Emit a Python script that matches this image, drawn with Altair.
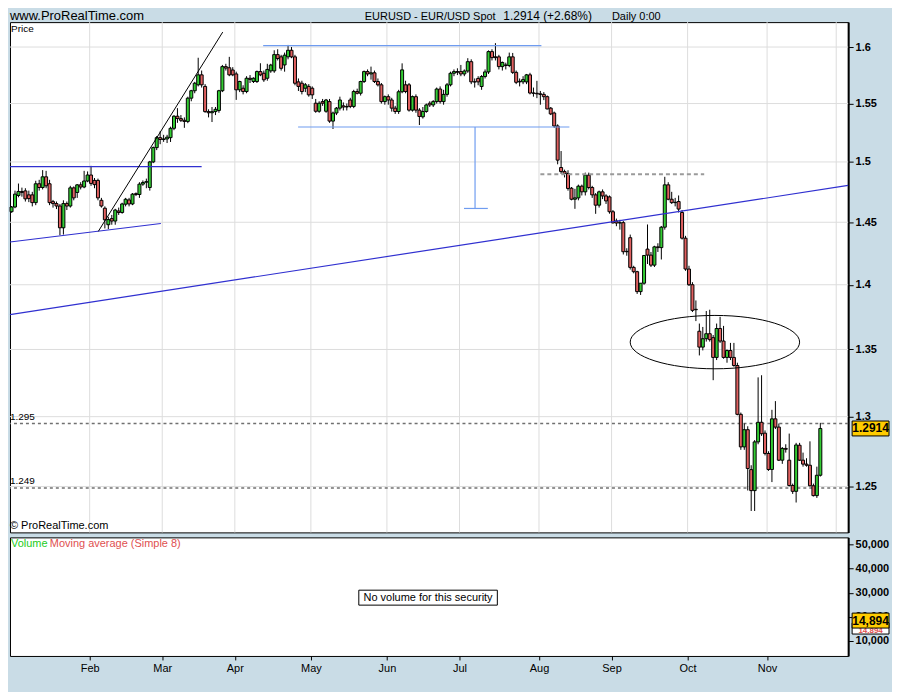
import json
import altair as alt
import numpy as np
import pandas as pd

# ---------------- data ----------------
OPEN = [
    1.4586, 1.4625, 1.4720, 1.4753, 1.4758, 1.4725, 1.4725, 1.4661, 1.4817, 1.4786,
    1.4875, 1.4817, 1.4669, 1.4653, 1.4633, 1.4455, 1.4653, 1.4633, 1.4783, 1.4745,
    1.4808, 1.4790, 1.4840, 1.4890, 1.4845, 1.4845, 1.4680, 1.4615, 1.4480, 1.4530,
    1.4510, 1.4592, 1.4580, 1.4648, 1.4683, 1.4650, 1.4735, 1.4728, 1.4814, 1.4830,
    1.4786, 1.5000, 1.5121, 1.5206, 1.5190, 1.5195, 1.5206, 1.5286, 1.5390, 1.5370,
    1.5355, 1.5345, 1.5547, 1.5612, 1.5664, 1.5752, 1.5650, 1.5430, 1.5420, 1.5430,
    1.5440, 1.5612, 1.5825, 1.5815, 1.5795, 1.5760, 1.5620, 1.5634, 1.5605, 1.5722,
    1.5693, 1.5693, 1.5781, 1.5766, 1.5722, 1.5787, 1.5787, 1.5932, 1.5912, 1.5840,
    1.5912, 1.5971, 1.5912, 1.5690, 1.5678, 1.5634, 1.5650, 1.5634, 1.5503, 1.5433,
    1.5517, 1.5433, 1.5517, 1.5348, 1.5418, 1.5460, 1.5480, 1.5470, 1.5531, 1.5475,
    1.5605, 1.5590, 1.5693, 1.5781, 1.5760, 1.5770, 1.5693, 1.5664, 1.5517, 1.5560,
    1.5531, 1.5460, 1.5431, 1.5603, 1.5664, 1.5664, 1.5443, 1.5560, 1.5443, 1.5385,
    1.5431, 1.5503, 1.5488, 1.5517, 1.5627, 1.5517, 1.5580, 1.5664, 1.5766, 1.5781,
    1.5781, 1.5760, 1.5786, 1.5869, 1.5690, 1.5720, 1.5649, 1.5737, 1.5778, 1.5959,
    1.5912, 1.5912, 1.5825, 1.5840, 1.5835, 1.5912, 1.5774, 1.5690, 1.5690, 1.5690,
    1.5752, 1.5592, 1.5590, 1.5585, 1.5580, 1.5560, 1.5460, 1.5418, 1.5306, 1.4953,
    1.4919, 1.4903, 1.4780, 1.4689, 1.4700, 1.4797, 1.4750, 1.4889, 1.4786, 1.4725,
    1.4640, 1.4750, 1.4716, 1.4708, 1.4586, 1.4510, 1.4494, 1.4497, 1.4262, 1.4375,
    1.4137, 1.4103, 1.3946, 1.4012, 1.4283, 1.4235, 1.4155, 1.4301, 1.4295, 1.4460,
    1.4808, 1.4689, 1.4661, 1.4670, 1.4580, 1.4371, 1.4124, 1.4000, 1.3808, 1.3639,
    1.3518, 1.3582, 1.3620, 1.3590, 1.3440, 1.3660, 1.3564, 1.3440, 1.3492, 1.3440,
    1.3379, 1.3017, 1.2781, 1.2905, 1.2619, 1.2471, 1.2817, 1.2959, 1.2880, 1.2734,
    1.2620, 1.2984, 1.2924, 1.2686, 1.2770, 1.2686, 1.2507, 1.2466, 1.2793, 1.2686,
    1.2658, 1.2650, 1.2505, 1.2436, 1.2579,
]
HIGH = [
    1.4633, 1.4760, 1.4819, 1.4785, 1.4780, 1.4760, 1.4750, 1.4842, 1.4850, 1.4931,
    1.4925, 1.4850, 1.4683, 1.4670, 1.4650, 1.4680, 1.4670, 1.4800, 1.4795, 1.4815,
    1.4830, 1.4925, 1.4920, 1.4967, 1.4865, 1.4860, 1.4700, 1.4630, 1.4545, 1.4560,
    1.4610, 1.4620, 1.4660, 1.4700, 1.4700, 1.4740, 1.4745, 1.4830, 1.4845, 1.4860,
    1.5009, 1.5130, 1.5220, 1.5260, 1.5230, 1.5230, 1.5300, 1.5400, 1.5460, 1.5400,
    1.5380, 1.5560, 1.5620, 1.5690, 1.5904, 1.5790, 1.5670, 1.5450, 1.5470, 1.5470,
    1.5620, 1.5840, 1.5850, 1.5912, 1.5820, 1.5780, 1.5700, 1.5660, 1.5740, 1.5750,
    1.5730, 1.5790, 1.5855, 1.5790, 1.5850, 1.5850, 1.5971, 1.5980, 1.5930, 1.5950,
    1.6019, 1.6000, 1.5930, 1.5720, 1.5700, 1.5680, 1.5670, 1.5650, 1.5540, 1.5520,
    1.5540, 1.5540, 1.5540, 1.5430, 1.5470, 1.5560, 1.5510, 1.5500, 1.5550, 1.5620,
    1.5630, 1.5700, 1.5790, 1.5800, 1.5825, 1.5790, 1.5720, 1.5680, 1.5570, 1.5580,
    1.5550, 1.5480, 1.5620, 1.5854, 1.5700, 1.5680, 1.5570, 1.5580, 1.5460, 1.5470,
    1.5500, 1.5520, 1.5530, 1.5640, 1.5650, 1.5620, 1.5680, 1.5780, 1.5800, 1.5810,
    1.5840, 1.5800, 1.5900, 1.5890, 1.5720, 1.5740, 1.5750, 1.5800, 1.5970, 1.5980,
    1.6035, 1.5930, 1.5870, 1.5860, 1.5950, 1.5947, 1.5790, 1.5720, 1.5740, 1.5760,
    1.5770, 1.5640, 1.5699, 1.5610, 1.5600, 1.5570, 1.5470, 1.5430, 1.5320, 1.5092,
    1.4935, 1.4930, 1.4790, 1.4775, 1.4810, 1.4810, 1.4910, 1.4910, 1.4800, 1.4740,
    1.4760, 1.4770, 1.4730, 1.4720, 1.4600, 1.4530, 1.4520, 1.4510, 1.4290, 1.4400,
    1.4150, 1.4110, 1.4010, 1.4230, 1.4482, 1.4260, 1.4310, 1.4330, 1.4470, 1.4875,
    1.4830, 1.4750, 1.4700, 1.4720, 1.4600, 1.4390, 1.4150, 1.4020, 1.3877, 1.3698,
    1.3672, 1.3795, 1.3805, 1.3610, 1.3698, 1.3750, 1.3680, 1.3500, 1.3550, 1.3550,
    1.3400, 1.3030, 1.2950, 1.2930, 1.2650, 1.2830, 1.3290, 1.3306, 1.2900, 1.2750,
    1.3050, 1.3114, 1.2950, 1.2780, 1.2800, 1.2877, 1.2520, 1.2810, 1.2810, 1.2740,
    1.2700, 1.2821, 1.2520, 1.2640, 1.2955,
]
LOW = [
    1.4578, 1.4615, 1.4705, 1.4710, 1.4670, 1.4665, 1.4630, 1.4640, 1.4760, 1.4770,
    1.4780, 1.4640, 1.4620, 1.4608, 1.4395, 1.4400, 1.4600, 1.4620, 1.4680, 1.4700,
    1.4770, 1.4780, 1.4830, 1.4800, 1.4780, 1.4680, 1.4620, 1.4450, 1.4445, 1.4480,
    1.4480, 1.4560, 1.4570, 1.4630, 1.4630, 1.4640, 1.4715, 1.4700, 1.4800, 1.4780,
    1.4760, 1.4990, 1.5100, 1.5150, 1.5170, 1.5160, 1.5169, 1.5270, 1.5333, 1.5340,
    1.5290, 1.5330, 1.5520, 1.5590, 1.5650, 1.5640, 1.5420, 1.5380, 1.5340, 1.5400,
    1.5420, 1.5600, 1.5790, 1.5740, 1.5740, 1.5532, 1.5600, 1.5580, 1.5590, 1.5680,
    1.5680, 1.5680, 1.5740, 1.5690, 1.5700, 1.5770, 1.5770, 1.5880, 1.5790, 1.5780,
    1.5890, 1.5900, 1.5660, 1.5610, 1.5580, 1.5600, 1.5560, 1.5540, 1.5420, 1.5420,
    1.5480, 1.5420, 1.5333, 1.5280, 1.5400, 1.5440, 1.5440, 1.5440, 1.5460, 1.5460,
    1.5580, 1.5570, 1.5680, 1.5740, 1.5710, 1.5680, 1.5650, 1.5500, 1.5490, 1.5490,
    1.5430, 1.5410, 1.5410, 1.5590, 1.5590, 1.5430, 1.5430, 1.5420, 1.5314, 1.5370,
    1.5420, 1.5470, 1.5470, 1.5500, 1.5500, 1.5490, 1.5560, 1.5650, 1.5740, 1.5750,
    1.5740, 1.5740, 1.5770, 1.5670, 1.5640, 1.5660, 1.5620, 1.5720, 1.5760, 1.5880,
    1.5880, 1.5800, 1.5790, 1.5800, 1.5820, 1.5760, 1.5670, 1.5650, 1.5670, 1.5670,
    1.5580, 1.5560, 1.5547, 1.5490, 1.5530, 1.5450, 1.5400, 1.5290, 1.4980, 1.4900,
    1.4870, 1.4760, 1.4680, 1.4610, 1.4680, 1.4720, 1.4720, 1.4770, 1.4700, 1.4569,
    1.4620, 1.4690, 1.4650, 1.4570, 1.4490, 1.4468, 1.4440, 1.4240, 1.4230, 1.4120,
    1.4090, 1.3928, 1.3920, 1.4000, 1.4164, 1.4140, 1.4140, 1.4260, 1.4200, 1.4440,
    1.4680, 1.4650, 1.4630, 1.4580, 1.4360, 1.4110, 1.3990, 1.3787, 1.3717, 1.3455,
    1.3493, 1.3560, 1.3560, 1.3269, 1.3420, 1.3550, 1.3430, 1.3400, 1.3420, 1.3370,
    1.3010, 1.2760, 1.2760, 1.2472, 1.2329, 1.2329, 1.2800, 1.2860, 1.2720, 1.2610,
    1.2531, 1.2910, 1.2680, 1.2660, 1.2740, 1.2500, 1.2448, 1.2388, 1.2680, 1.2640,
    1.2640, 1.2500, 1.2430, 1.2420, 1.2570,
]
CLOSE = [
    1.4625, 1.4731, 1.4753, 1.4745, 1.4692, 1.4694, 1.4661, 1.4817, 1.4786, 1.4875,
    1.4800, 1.4661, 1.4653, 1.4633, 1.4455, 1.4653, 1.4633, 1.4783, 1.4700, 1.4808,
    1.4790, 1.4840, 1.4890, 1.4820, 1.4810, 1.4700, 1.4633, 1.4520, 1.4522, 1.4510,
    1.4600, 1.4580, 1.4650, 1.4689, 1.4650, 1.4731, 1.4728, 1.4814, 1.4828, 1.4835,
    1.5000, 1.5121, 1.5206, 1.5190, 1.5195, 1.5210, 1.5286, 1.5390, 1.5370, 1.5355,
    1.5345, 1.5547, 1.5612, 1.5678, 1.5752, 1.5664, 1.5430, 1.5420, 1.5430, 1.5450,
    1.5612, 1.5825, 1.5812, 1.5752, 1.5752, 1.5620, 1.5693, 1.5605, 1.5722, 1.5712,
    1.5722, 1.5781, 1.5752, 1.5708, 1.5800, 1.5839, 1.5932, 1.5897, 1.5810, 1.5927,
    1.5971, 1.5912, 1.5678, 1.5650, 1.5605, 1.5664, 1.5576, 1.5576, 1.5433, 1.5503,
    1.5503, 1.5531, 1.5348, 1.5418, 1.5460, 1.5531, 1.5470, 1.5475, 1.5475, 1.5605,
    1.5590, 1.5693, 1.5781, 1.5760, 1.5770, 1.5693, 1.5664, 1.5517, 1.5560, 1.5531,
    1.5460, 1.5431, 1.5603, 1.5796, 1.5605, 1.5443, 1.5560, 1.5443, 1.5388, 1.5431,
    1.5488, 1.5488, 1.5517, 1.5627, 1.5517, 1.5580, 1.5664, 1.5766, 1.5781, 1.5775,
    1.5760, 1.5786, 1.5869, 1.5690, 1.5690, 1.5690, 1.5737, 1.5778, 1.5959, 1.5905,
    1.5905, 1.5825, 1.5862, 1.5835, 1.5912, 1.5774, 1.5686, 1.5695, 1.5710, 1.5752,
    1.5592, 1.5590, 1.5585, 1.5580, 1.5560, 1.5453, 1.5410, 1.5306, 1.5015, 1.4919,
    1.4903, 1.4778, 1.4689, 1.4700, 1.4797, 1.4750, 1.4889, 1.4786, 1.4725, 1.4640,
    1.4750, 1.4716, 1.4675, 1.4586, 1.4495, 1.4494, 1.4497, 1.4262, 1.4265, 1.4137,
    1.4103, 1.3946, 1.4012, 1.4232, 1.4235, 1.4155, 1.4301, 1.4295, 1.4460, 1.4808,
    1.4689, 1.4661, 1.4664, 1.4608, 1.4371, 1.4124, 1.4000, 1.3800, 1.3805, 1.3518,
    1.3582, 1.3620, 1.3575, 1.3440, 1.3660, 1.3564, 1.3440, 1.3492, 1.3440, 1.3379,
    1.3017, 1.2781, 1.2905, 1.2627, 1.2471, 1.2817, 1.2959, 1.2876, 1.2734, 1.2620,
    1.2984, 1.2924, 1.2686, 1.2770, 1.2764, 1.2507, 1.2466, 1.2795, 1.2686, 1.2658,
    1.2650, 1.2505, 1.2436, 1.2579, 1.2914,
]

MONTH_START = [23, 44, 65, 87, 109, 130, 153, 174, 196, 219, 239]   # bar index of 1st trading day
MONTH_NAMES = ["Feb", "Mar", "Apr", "May", "Jun", "Jul", "Aug", "Sep", "Oct", "Nov"]
PRICE_TICKS = [1.25, 1.3, 1.35, 1.4, 1.45, 1.5, 1.55, 1.6]
VOLUME_TICKS = [10000, 20000, 30000, 40000, 50000]
LEVELS = [1.295, 1.249]
LAST_PRICE = 1.2914
LAST_VOLUME = 14894

# drawn annotations: (bar index, price) end points
DARK_BLUE = {"x1": [-0.45, -0.45, -0.45], "p1": [1.4960, 1.4340, 1.3767],
             "x2": [55.0, 43.2, 242.05], "p2": [1.4960, 1.4490, 1.4803]}
LIGHT_BLUE = {"x1": [72.8, 82.9, 134.1, 130.9], "p1": [1.6013, 1.5297, 1.5297, 1.4613],
              "x2": [153.3, 161.4, 134.1, 137.8], "p2": [1.6013, 1.5297, 1.4613, 1.4613]}
BLACK_TREND = {"x1": [25.1], "p1": [1.4426], "x2": [61.1], "p2": [1.6135]}
GRAY_DASH = {"x1": [153.0], "p1": [1.4896], "x2": [200.4], "p2": [1.4896]}
ELLIPSE = {"x": [203.5], "p": [1.3556]}

assert len(OPEN) == len(HIGH) == len(LOW) == len(CLOSE)

# ---------------- styling ----------------
W, HP, HV = 841, 512, 119
BG = "#c9dce6"
UP, DOWN = "#33cc33", "#e06060"
GRID = "#dddddd"
FONT = "Liberation Sans, Arial, sans-serif"

xs = alt.Scale(domain=[-0.45, 242.05], nice=False, zero=False, padding=0)
ys = alt.Scale(type="log", domain=[1.21818, 1.62256], nice=False, padding=0)
vs = alt.Scale(domain=[3814, 52887], nice=False, zero=False, padding=0)

price_axis = alt.Axis(orient="right", values=PRICE_TICKS, format="~g", title=None, grid=False,
                      tickSize=5, tickColor="black", domainColor="black", domainWidth=2,
                      labelFont=FONT, labelFontSize=11, labelFontWeight="bold",
                      labelColor="black", labelPadding=2, labelFlush=False, labelOverlap=False)


def X(field):
    return alt.X(field, scale=xs, axis=None)


def Y(field):
    return alt.Y(field, scale=ys, axis=price_axis)


one = pd.DataFrame({"k": [0]})


def txt(text, x, y, size=11, color="black", align="left", baseline="middle", weight="normal"):
    return alt.Chart(one).mark_text(
        text=text, align=align, baseline=baseline, fontSize=size, color=color,
        font=FONT, fontWeight=weight).encode(x=alt.value(x), y=alt.value(y))


def segs(d, color, width=1.0, dash=None):
    kw = dict(color=color, strokeWidth=width)
    if dash:
        kw["strokeDash"] = dash
    return alt.Chart(pd.DataFrame(d)).mark_rule(**kw).encode(
        x=X("x1:Q"), x2="x2:Q", y=Y("p1:Q"), y2="p2:Q")


n = len(CLOSE)
df = pd.DataFrame({"i": np.arange(n), "o": OPEN, "h": HIGH, "l": LOW, "c": CLOSE})
df["dir"] = np.where(df["c"] >= df["o"], "up", "down")

month_ticks = [m - 0.4 for m in MONTH_START]

grid_v = alt.Chart(pd.DataFrame({"m": month_ticks})).mark_rule(color=GRID).encode(x=X("m:Q"))
grid_h = alt.Chart(pd.DataFrame({"p": PRICE_TICKS})).mark_rule(color=GRID).encode(y=Y("p:Q"))

level_lines = alt.Chart(pd.DataFrame({"p": LEVELS})).mark_rule(
    color="#707070", strokeWidth=1.5, strokeDash=[3, 3]).encode(y=Y("p:Q"))
level_labels = alt.Chart(pd.DataFrame({"p": LEVELS, "t": [f"{v:g}" for v in LEVELS]})).mark_text(
    align="left", baseline="bottom", dy=-2, fontSize=10, font=FONT, color="black").encode(
    x=alt.value(0), y=Y("p:Q"), text="t:N")

wicks = alt.Chart(df).mark_rule(color="black", strokeWidth=1).encode(
    x=X("i:Q"), y=Y("l:Q"), y2="h:Q")
bodies = alt.Chart(df).mark_bar(size=3, stroke="black", strokeWidth=1).encode(
    x=X("i:Q"), y=Y("o:Q"), y2="c:Q",
    color=alt.Color("dir:N", scale=alt.Scale(domain=["up", "down"], range=[UP, DOWN]), legend=None))

ellipse = alt.Chart(pd.DataFrame(ELLIPSE)).mark_point(
    shape="M -1 0 A 1 0.315 0 1 1 1 0 A 1 0.315 0 1 1 -1 0 Z", size=28900,
    filled=False, color="black", strokeWidth=1, opacity=1).encode(x=X("x:Q"), y=Y("p:Q"))

RECT = "M -1 -0.405 L 1 -0.405 L 1 0.405 L -1 0.405 Z"
badge_df = pd.DataFrame({"p": [LAST_PRICE], "t": [f"{LAST_PRICE:.4f}"]})
badge = alt.Chart(badge_df).mark_point(
    shape=RECT, size=1369, filled=True, fill="#ffcc00", stroke="black", strokeWidth=1,
    opacity=1).encode(x=alt.value(W + 22.5), y=Y("p:Q"))
badge_t = alt.Chart(badge_df).mark_text(
    fontSize=12, fontWeight="bold", font=FONT, color="black", align="center",
    baseline="middle").encode(x=alt.value(W + 22.5), y=Y("p:Q"), text="t:N")

price = alt.layer(
    grid_v, grid_h, level_lines,
    wicks, bodies,
    segs(DARK_BLUE, "#3030d0", 1.2),
    segs(LIGHT_BLUE, "#6f9cf0", 1.2),
    segs(BLACK_TREND, "black", 1),
    segs(GRAY_DASH, "#9a9a9a", 2, [4, 3]),
    ellipse, level_labels,
    txt("Price", 1, 7, size=10),
    txt("\u00a9 ProRealTime.com", 0, HP - 6, size=11),
    txt("www.ProRealTime.com", 0, -2, size=13, baseline="alphabetic"),
    txt("EURUSD - EUR/USD Spot", 356, -2, size=11, baseline="alphabetic"),
    txt(f"{LAST_PRICE:.4f} (+2.68%)", 495, -2, size=12, baseline="alphabetic"),
    txt("Daily 0:00", 604, -2, size=11, baseline="alphabetic"),
    badge, badge_t,
).properties(width=W, height=HP)

# ---------------- volume panel ----------------
label_expr = ("[" + ",".join(f"'{m}'" for m in MONTH_NAMES) + "][indexof("
              + json.dumps(month_ticks[:len(MONTH_NAMES)]) + ", datum.value)]")
vol_xaxis = alt.Axis(orient="bottom", values=month_ticks[:len(MONTH_NAMES)], labelExpr=label_expr,
                     title=None, grid=False, domain=False, tickSize=4, tickColor="black",
                     labelFont=FONT, labelFontSize=11, labelColor="black", labelPadding=3,
                     labelFlush=False, labelOverlap=False)
vol_yaxis = alt.Axis(orient="right", values=VOLUME_TICKS, format=",d", title=None, grid=False,
                     tickSize=5, tickColor="black", domainColor="black", domainWidth=2,
                     labelFont=FONT, labelFontSize=11, labelFontWeight="bold", labelColor="black",
                     labelPadding=2, labelFlush=False, labelOverlap=False)

vol_x = alt.Chart(pd.DataFrame({"m": month_ticks[:len(MONTH_NAMES)]})).mark_rule(opacity=0).encode(
    x=alt.X("m:Q", scale=xs, axis=vol_xaxis))
vol_y = alt.Chart(pd.DataFrame({"v": VOLUME_TICKS})).mark_rule(opacity=0).encode(
    y=alt.Y("v:Q", scale=vs, axis=vol_yaxis))

no_vol_box = alt.Chart(one).mark_rect(fill="white", stroke="black", strokeWidth=1).encode(
    x=alt.value(350), x2=alt.value(489), y=alt.value(53), y2=alt.value(68))
vol_white = alt.Chart(one).mark_rect(fill="white", stroke="black", strokeWidth=1).encode(
    x=alt.value(W + 4), x2=alt.value(W + 41), y=alt.value(86), y2=alt.value(97))
vol_badge = alt.Chart(one).mark_rect(fill="#ffcc00", stroke="black", strokeWidth=1).encode(
    x=alt.value(W + 4), x2=alt.value(W + 41), y=alt.value(76), y2=alt.value(91))

volume = alt.layer(
    vol_x, vol_y,
    txt("Volume", 1, 7, size=11, color="#22cc22"),
    txt("Moving average (Simple 8)", 40, 7, size=11, color="#e05050"),
    no_vol_box,
    txt("No volume for this security", 419.5, 60.5, size=11, align="center"),
    vol_white,
    txt(f"{LAST_VOLUME:,}", W + 22.5, 94, size=8, align="center", weight="bold", color="#e05050"),
    vol_badge,
    txt(f"{LAST_VOLUME:,}", W + 22.5, 83.5, size=12, align="center", weight="bold"),
).properties(width=W, height=HV)

chart = alt.vconcat(
    price, volume, spacing=3, background=BG,
    padding={"left": 0, "top": 0, "right": 0, "bottom": 16},
).configure_view(stroke="black", strokeWidth=1, fill="white")

chart.save("out.html", embed_options={"renderer": "svg", "actions": False})
